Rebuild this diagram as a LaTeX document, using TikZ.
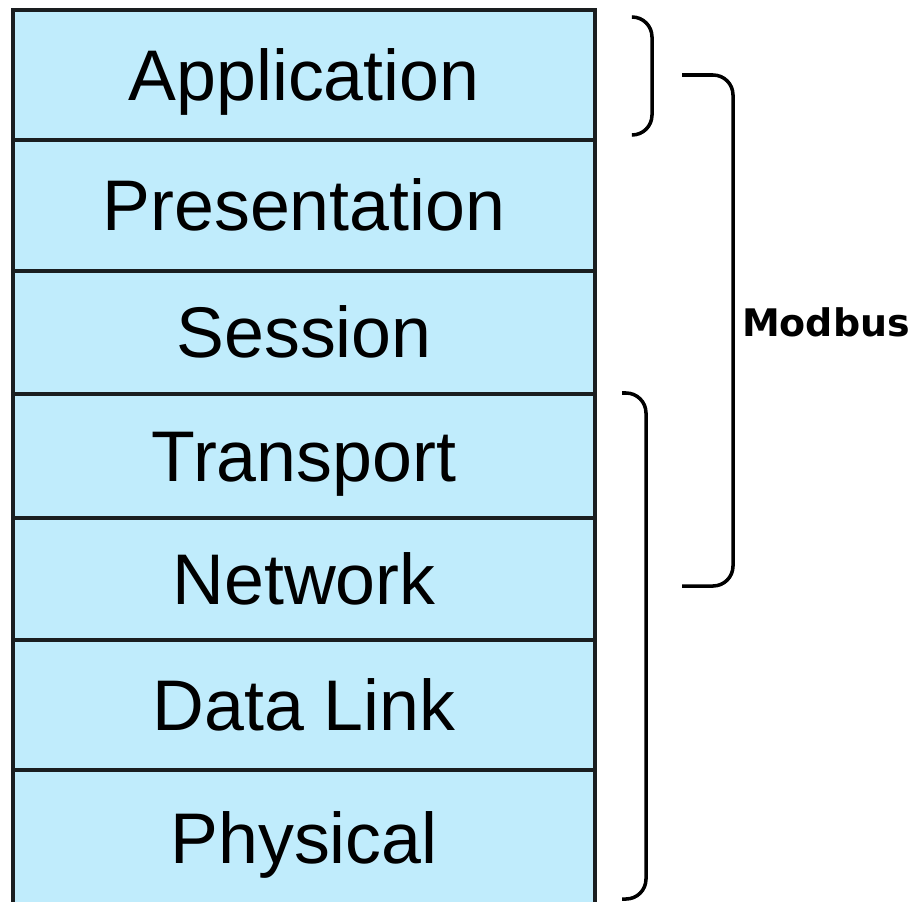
\documentclass[tikz,border=0pt]{standalone}
\usepackage{fontspec}
\setmainfont{Liberation Sans}
\newfontfamily\labelfont{DejaVu Sans}
\usetikzlibrary{positioning}

\definecolor{layerblue}{RGB}{192,236,252}
\definecolor{layerline}{RGB}{26,30,32}

\begin{document}
\begin{tikzpicture}[
    x=0.025cm, y=-0.025cm,
    node distance=0cm,
    layer/.style={
      rectangle,
      draw=layerline,
      fill=layerblue,
      line width=2.6pt,
      outer sep=0pt,
      minimum width=14.55cm,
      text height=36pt,
      text depth=0pt,
      align=center,
      font=\fontsize{51}{60}\selectfont
    },
    bracket/.style={
      line width=2.5pt,
      rounded corners=0.5cm
    }
  ]
    \useasboundingbox (0,0) rectangle (913,901);

    % OSI stack
    \node[layer, minimum height=3.25cm]  (app)  at (304,75) {Application};
    \node[layer, minimum height=3.275cm] (pres) [below=of app]  {Presentation};
    \node[layer, minimum height=3.075cm] (sess) [below=of pres] {Session};
    \node[layer, minimum height=3.1cm]   (trans)[below=of sess] {Transport};
    \node[layer, minimum height=3.05cm]  (net)  [below=of trans]{Network};
    \node[layer, minimum height=3.25cm]  (link) [below=of net]  {Data Link};
    \node[layer, minimum height=3.4cm]   (phys) [below=of link] {Physical};

    % label
    \node[font=\labelfont\bfseries\fontsize{27}{32}\selectfont, inner sep=0pt]
      (modbus) at (826,322) {Modbus};

    % brackets
    \coordinate (a1) at (632,17);
    \coordinate (a2) at (632,135);
    \coordinate (m1) at (682,75);
    \coordinate (m2) at (682,586);
    \coordinate (t1) at (622,393);
    \coordinate (t2) at (622,899);

    \draw[bracket] (a1) -- ++(20,0) |- (a2);
    \draw[bracket] (m1) -- ++(51,0) |- (m2);
    \draw[bracket] (t1) -- ++(24,0) |- (t2);

  \end{tikzpicture}
\end{document}
